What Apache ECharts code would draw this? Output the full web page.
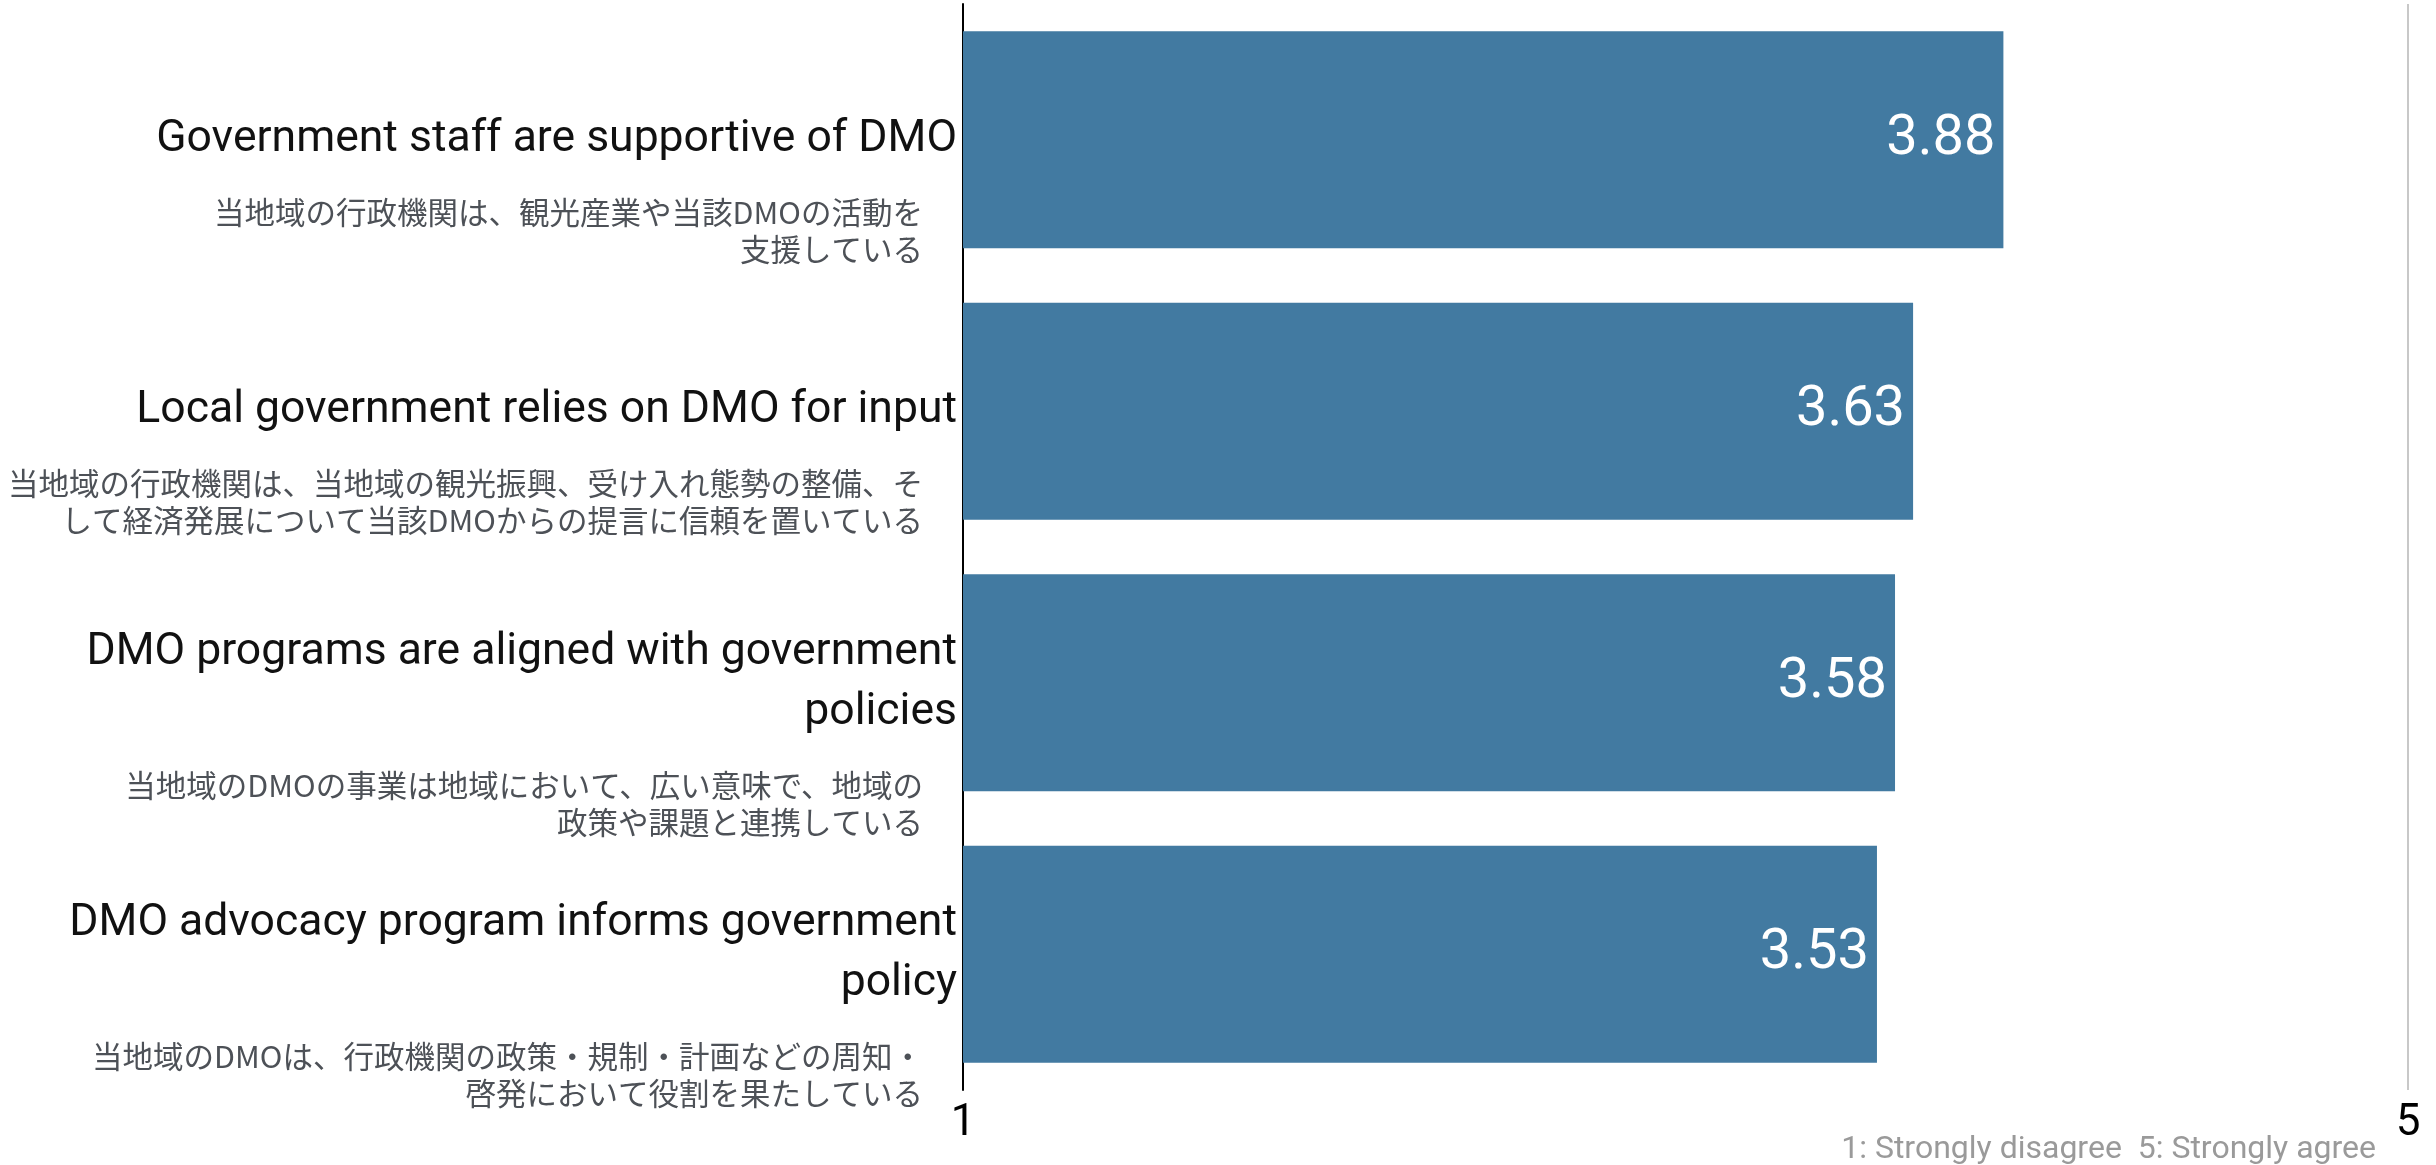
<!DOCTYPE html>
<html lang="en">
<head>
    <meta charset="UTF-8">
    <title>DMO government relations</title>
    <script src="https://cdn.jsdelivr.net/npm/echarts@6/dist/echarts.min.js"></script>
    <style>
        html, body { margin: 0; padding: 0; background: #fff; }
    </style>
</head>
<body>
<div id="main" style="width: 2436px;height:1165px;"></div>
<script>
    // data
    var labelsEn = [
        'Government staff are supportive of DMO',
        'Local government relies on DMO for input',
        'DMO programs are aligned with government\npolicies',
        'DMO advocacy program informs government\npolicy'
    ];
    var labelsJa = [
        '当地域の行政機関は、観光産業や当該DMOの活動を\n支援している',
        '当地域の行政機関は、当地域の観光振興、受け入れ態勢の整備、そ\nして経済発展について当該DMOからの提言に信頼を置いている',
        '当地域のDMOの事業は地域において、広い意味で、地域の\n政策や課題と連携している',
        '当地域のDMOは、行政機関の政策・規制・計画などの周知・\n啓発において役割を果たしている'
    ];
    var scores = [3.88, 3.63, 3.58, 3.53];
    var scaleMin = 1;
    var scaleMax = 5;
    var scaleNote = '1: Strongly disagree  5: Strongly agree';

    var myChart = echarts.init(document.getElementById('main'));

    // japanese text sits under the english one, so push it down by english line count
    function jaLabel(value, idx) {
        var enLines = labelsEn[idx].split('\n').length;
        var lines = value.split('\n').map(function (l) { return '{ja|' + l + '}'; });
        return '{sp' + enLines + '| }\n' + lines.join('\n');
    }

    var option = {
        animation: false,
        grid: {
            left: 963,
            right: 28,
            top: 4,
            bottom: 75,
            containLabel: false,
            outerBoundsMode: 'none'
        },
        xAxis: {
            type: 'value',
            min: scaleMin,
            max: scaleMax,
            interval: scaleMax - scaleMin,
            axisLine: { show: false },
            axisTick: { show: false },
            axisLabel: {
                fontFamily: 'Roboto',
                fontSize: 44,
                color: '#000',
                margin: 12
            },
            splitLine: {
                show: true,
                lineStyle: { color: '#c8c8c8', width: 2 }
            }
        },
        yAxis: [
            {
                type: 'category',
                data: labelsEn,
                inverse: true,
                axisLine: { show: true, lineStyle: { color: '#000', width: 2 } },
                axisTick: { show: false },
                axisLabel: {
                    fontFamily: 'Roboto',
                    fontSize: 44.5,
                    lineHeight: 60,
                    color: '#111',
                    margin: 6
                }
            },
            {
                type: 'category',
                data: labelsJa,
                inverse: true,
                position: 'left',
                axisLine: { show: false },
                axisTick: { show: false },
                splitLine: { show: false },
                axisLabel: {
                    margin: 40,
                    verticalAlign: 'top',
                    formatter: jaLabel,
                    rich: {
                        sp1: { lineHeight: 54, fontSize: 10 },
                        sp2: { lineHeight: 84, fontSize: 10 },
                        ja: {
                            fontFamily: '"Noto Sans CJK JP", sans-serif',
                            fontSize: 30.5,
                            lineHeight: 37,
                            color: '#4d5157'
                        }
                    }
                }
            }
        ],
        series: [
            {
                type: 'bar',
                yAxisIndex: 0,
                data: scores,
                barCategoryGap: '20%',
                itemStyle: { color: '#427aa1' },
                label: {
                    show: true,
                    position: 'insideRight',
                    distance: 8,
                    color: '#fff',
                    fontFamily: 'Roboto',
                    fontSize: 56,
                    formatter: function (p) { return p.value.toFixed(2); }
                }
            }
        ],
        graphic: [
            {
                type: 'text',
                x: 2376,
                y: 1150,
                style: {
                    text: scaleNote,
                    fontFamily: 'Roboto',
                    fontSize: 32,
                    fill: '#9a9a9a',
                    textAlign: 'right',
                    textVerticalAlign: 'middle'
                }
            }
        ]
    };
    myChart.setOption(option);
</script>
</body>
</html>
